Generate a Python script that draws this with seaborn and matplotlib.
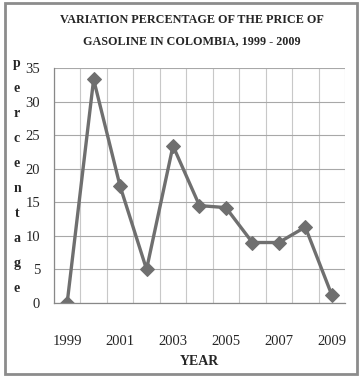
import numpy as np
import pandas as pd
import matplotlib
matplotlib.use("Agg")
import matplotlib.pyplot as plt
from matplotlib.patches import Rectangle
import seaborn as sns

# Data
years = [1999, 2000, 2001, 2002, 2003, 2004, 2005, 2006, 2007, 2008, 2009]
variation = [0.0, 33.3, 17.4, 5.0, 23.4, 14.5, 14.2, 9.0, 9.0, 11.3, 1.2]
tick_years = [1999, 2001, 2003, 2005, 2007, 2009]
y_ticks = [0, 5, 10, 15, 20, 25, 30, 35]

df = pd.DataFrame({"pos": np.arange(len(years)), "year": years, "variation": variation})

sns.set_style("white")
plt.rcParams['font.family'] = ['Liberation Serif', 'DejaVu Serif']

fig = plt.figure(figsize=(3.62, 3.82), dpi=100)
ax = fig.add_axes([0.149, 0.207, 0.804, 0.615])

line_col = "#6f6f6f"
sns.lineplot(data=df, x="pos", y="variation", ax=ax, color=line_col,
             linewidth=2.4, marker="D", markersize=7.5,
             markerfacecolor=line_col, markeredgecolor=line_col)

ax.set_xlim(-0.5, len(years) - 0.5)
ax.set_ylim(0, 35)

# category labels at every other year
ax.set_xticks([years.index(y) for y in tick_years])
ax.set_xticklabels([str(y) for y in tick_years], fontsize=10.5)
ax.set_xticks(np.arange(-0.5, len(years), 1.0), minor=True)
ax.tick_params(axis="x", which="major", length=0, pad=23)
ax.tick_params(axis="x", which="minor", length=4, color="#888888")
ax.set_yticks(y_ticks)
ax.set_yticklabels([str(v) for v in y_ticks], fontsize=10.5)
ax.tick_params(axis="y", length=4, color="#888888", pad=6)

ax.grid(False)
ax.grid(True, axis="x", which="minor", color="#c8c8c8", linewidth=0.8)
ax.grid(True, axis="y", which="major", color="#a8a8a8", linewidth=0.8)
ax.set_axisbelow(True)

for side in ["top", "right"]:
    ax.spines[side].set_visible(False)
for side in ["left", "bottom"]:
    ax.spines[side].set_color("#888888")
    ax.spines[side].set_linewidth(0.9)

ax.set_xlabel("YEAR", fontsize=10, fontweight="bold", labelpad=5)
ax.set_ylabel("")
fig.text(0.047, 0.85, "\n".join("percentage"), fontsize=10, fontweight="bold",
         ha="center", va="top", linespacing=2.2)

fig.text(0.53, 0.964, "VARIATION PERCENTAGE OF THE PRICE OF\nGASOLINE IN COLOMBIA, 1999 - 2009",
         fontsize=8.7, fontweight="bold", ha="center", va="top", linespacing=2.0)

# chart border
fig.patches.append(Rectangle((0.014, 0.022), 0.972, 0.97, transform=fig.transFigure,
                             fill=False, edgecolor="#8c8c8c", linewidth=2))

fig.savefig("out.png", dpi=100)
